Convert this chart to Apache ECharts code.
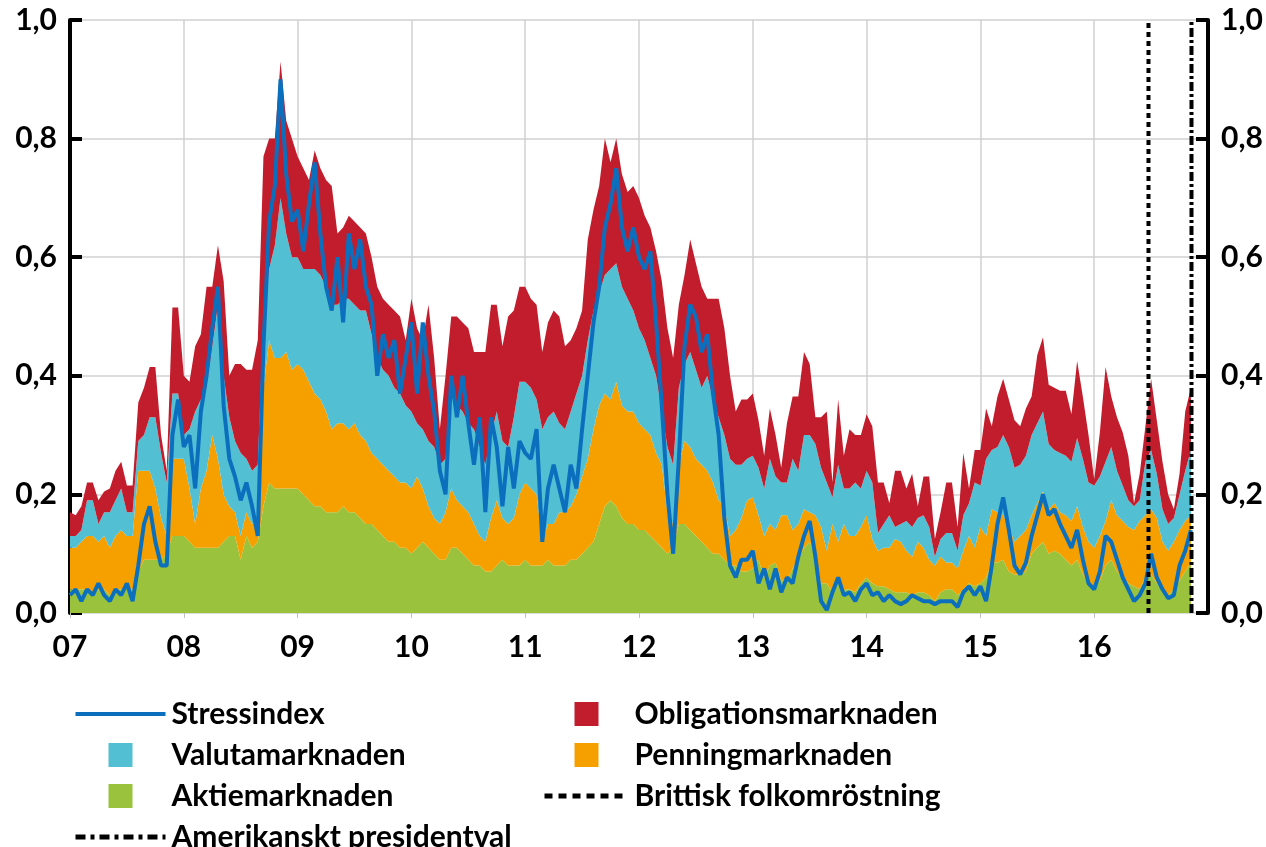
<!DOCTYPE html>
<html>
<head>
<meta charset="utf-8">
<script src="https://cdn.jsdelivr.net/npm/echarts@6/dist/echarts.min.js"></script>
<style>
  html, body { margin: 0; background: #fff; }
  #chart { width: 1266px; height: 847px; }
</style>
</head>
<body>
<div id="chart"></div>
<script>
// sampling: one value every 0.05 year from jan 2007 to nov 2016
var startYear = 2007, endYear = 2017, step = 0.05;

var aktie = [
  0.04,0.04,0.04,0.04,0.03,0.04,0.04,0.03,0.04,0.04,0.04,0.04,0.07,0.09,0.09,0.09,0.09,0.10,0.13,0.13,
  0.13,0.12,0.11,0.11,0.11,0.11,0.11,0.12,0.13,0.13,0.09,0.13,0.11,0.12,0.18,0.22,0.21,0.21,0.21,0.21,
  0.21,0.20,0.19,0.18,0.18,0.17,0.17,0.17,0.18,0.17,0.17,0.16,0.15,0.15,0.14,0.13,0.12,0.12,0.11,0.11,
  0.10,0.11,0.12,0.11,0.10,0.09,0.09,0.11,0.11,0.10,0.09,0.08,0.08,0.07,0.07,0.08,0.09,0.08,0.08,0.08,
  0.09,0.08,0.08,0.08,0.09,0.08,0.08,0.08,0.09,0.09,0.10,0.11,0.12,0.15,0.18,0.19,0.18,0.16,0.15,0.15,
  0.14,0.14,0.13,0.12,0.11,0.10,0.11,0.15,0.15,0.14,0.13,0.12,0.11,0.10,0.10,0.09,0.08,0.08,0.07,0.07,
  0.075,0.09,0.06,0.08,0.085,0.055,0.055,0.075,0.09,0.11,0.12,0.095,0.05,0.05,0.035,0.055,0.04,0.04,0.035,0.05,
  0.06,0.05,0.045,0.045,0.04,0.035,0.035,0.035,0.03,0.035,0.035,0.03,0.02,0.035,0.04,0.04,0.03,0.04,0.05,0.045,
  0.05,0.06,0.085,0.085,0.09,0.07,0.065,0.065,0.07,0.10,0.11,0.12,0.10,0.105,0.10,0.09,0.08,0.09,0.065,0.05,
  0.045,0.055,0.08,0.09,0.07,0.06,0.05,0.045,0.04,0.06,0.065,0.05,0.04,0.03,0.04,0.055,0.07,0.085
];
var penning = [
  0.07,0.07,0.08,0.09,0.10,0.08,0.09,0.08,0.09,0.10,0.09,0.09,0.17,0.15,0.15,0.12,0.07,0.03,0.13,0.13,
  0.13,0.09,0.04,0.10,0.13,0.19,0.15,0.08,0.05,0.04,0.04,0.04,0.04,0.04,0.20,0.24,0.22,0.22,0.23,0.20,
  0.21,0.21,0.20,0.19,0.18,0.17,0.14,0.15,0.14,0.14,0.15,0.14,0.14,0.12,0.12,0.12,0.12,0.11,0.11,0.11,
  0.11,0.12,0.09,0.07,0.06,0.06,0.08,0.10,0.08,0.08,0.08,0.07,0.05,0.05,0.09,0.11,0.07,0.07,0.08,0.12,
  0.13,0.13,0.12,0.04,0.06,0.07,0.09,0.09,0.09,0.11,0.13,0.15,0.19,0.20,0.19,0.17,0.21,0.19,0.19,0.19,
  0.18,0.17,0.17,0.15,0.14,0.07,0.04,0.10,0.14,0.14,0.13,0.13,0.13,0.12,0.09,0.09,0.05,0.06,0.09,0.12,
  0.12,0.075,0.07,0.07,0.055,0.11,0.11,0.065,0.06,0.065,0.05,0.07,0.095,0.055,0.115,0.065,0.11,0.09,0.095,0.095,
  0.105,0.075,0.06,0.065,0.07,0.09,0.085,0.07,0.065,0.085,0.075,0.06,0.06,0.06,0.045,0.045,0.045,0.065,0.08,0.065,
  0.095,0.07,0.09,0.085,0.075,0.075,0.055,0.065,0.07,0.065,0.075,0.085,0.075,0.08,0.07,0.075,0.075,0.09,0.08,0.07,
  0.065,0.075,0.075,0.10,0.095,0.095,0.095,0.095,0.115,0.105,0.11,0.11,0.08,0.075,0.08,0.085,0.085,0.08
];
var valuta = [
  0.02,0.02,0.02,0.06,0.06,0.03,0.04,0.06,0.06,0.07,0.04,0.04,0.05,0.06,0.09,0.12,0.11,0.09,0.11,0.11,
  0.04,0.10,0.19,0.15,0.14,0.15,0.26,0.20,0.15,0.12,0.14,0.09,0.09,0.09,0.12,0.12,0.19,0.27,0.20,0.19,
  0.18,0.17,0.19,0.21,0.21,0.21,0.21,0.20,0.21,0.22,0.20,0.21,0.22,0.20,0.17,0.16,0.16,0.15,0.15,0.13,
  0.13,0.09,0.10,0.11,0.12,0.10,0.09,0.16,0.16,0.16,0.15,0.16,0.15,0.13,0.14,0.15,0.13,0.13,0.17,0.19,
  0.17,0.17,0.16,0.19,0.18,0.19,0.15,0.14,0.16,0.17,0.17,0.20,0.20,0.19,0.20,0.22,0.20,0.20,0.19,0.17,
  0.16,0.15,0.13,0.13,0.09,0.11,0.10,0.13,0.13,0.16,0.15,0.13,0.16,0.14,0.14,0.12,0.13,0.11,0.09,0.07,
  0.07,0.08,0.08,0.11,0.09,0.055,0.055,0.12,0.09,0.125,0.13,0.12,0.10,0.115,0.045,0.13,0.06,0.08,0.09,0.065,
  0.075,0.095,0.03,0.04,0.055,0.02,0.03,0.05,0.05,0.04,0.055,0.055,0.015,0.03,0.05,0.05,0.03,0.06,0.055,0.11,
  0.07,0.13,0.10,0.11,0.135,0.135,0.125,0.12,0.125,0.135,0.135,0.135,0.11,0.09,0.10,0.10,0.10,0.115,0.115,0.10,
  0.105,0.10,0.10,0.09,0.075,0.06,0.045,0.04,0.035,0.09,0.10,0.075,0.055,0.045,0.04,0.06,0.085,0.11
];
var oblig = [
  0.04,0.035,0.04,0.03,0.03,0.04,0.035,0.04,0.05,0.045,0.045,0.045,0.065,0.08,0.085,0.085,0.03,0.02,0.145,0.145,
  0.10,0.08,0.11,0.11,0.17,0.10,0.10,0.16,0.07,0.13,0.15,0.15,0.17,0.21,0.27,0.22,0.18,0.23,0.19,0.20,
  0.17,0.17,0.15,0.20,0.18,0.18,0.20,0.12,0.12,0.14,0.14,0.14,0.13,0.13,0.12,0.12,0.12,0.13,0.13,0.11,
  0.19,0.16,0.15,0.23,0.15,0.06,0.14,0.13,0.15,0.15,0.16,0.13,0.16,0.19,0.22,0.18,0.16,0.22,0.18,0.16,
  0.16,0.15,0.16,0.13,0.16,0.17,0.18,0.14,0.12,0.11,0.11,0.17,0.17,0.18,0.23,0.18,0.21,0.19,0.18,0.21,
  0.22,0.21,0.22,0.21,0.22,0.20,0.18,0.14,0.15,0.19,0.18,0.17,0.13,0.17,0.20,0.18,0.14,0.09,0.11,0.10,
  0.105,0.08,0.055,0.085,0.07,0.025,0.10,0.105,0.125,0.14,0.12,0.045,0.085,0.12,0.025,0.11,0.055,0.10,0.08,0.09,
  0.095,0.095,0.085,0.07,0.02,0.095,0.09,0.055,0.09,0.02,0.065,0.085,0.03,0.045,0.085,0.085,0.04,0.105,0.025,0.055,
  0.06,0.085,0.04,0.085,0.095,0.08,0.08,0.065,0.08,0.065,0.115,0.125,0.10,0.105,0.105,0.11,0.08,0.13,0.105,0.08,
  0.01,0.075,0.16,0.085,0.09,0.09,0.075,0.005,0.045,0.06,0.12,0.09,0.08,0.05,0.015,0.035,0.10,0.105
];
var stress = [
  0.03,0.04,0.02,0.04,0.03,0.05,0.03,0.02,0.04,0.03,0.05,0.02,0.08,0.15,0.18,0.12,0.08,0.08,0.30,0.36,
  0.28,0.30,0.21,0.34,0.40,0.48,0.55,0.35,0.26,0.23,0.19,0.22,0.18,0.13,0.45,0.66,0.72,0.90,0.74,0.66,
  0.68,0.61,0.69,0.76,0.64,0.55,0.51,0.60,0.49,0.64,0.58,0.63,0.55,0.52,0.40,0.47,0.43,0.46,0.37,0.43,
  0.49,0.37,0.49,0.40,0.34,0.24,0.20,0.40,0.33,0.40,0.32,0.25,0.33,0.17,0.33,0.28,0.18,0.28,0.21,0.29,
  0.27,0.26,0.31,0.12,0.21,0.25,0.21,0.17,0.25,0.21,0.31,0.40,0.49,0.55,0.65,0.69,0.75,0.65,0.61,0.65,
  0.60,0.58,0.61,0.49,0.35,0.20,0.10,0.26,0.45,0.52,0.50,0.44,0.47,0.37,0.30,0.16,0.08,0.06,0.09,0.09,
  0.105,0.05,0.075,0.04,0.075,0.035,0.06,0.05,0.095,0.13,0.155,0.095,0.02,0.005,0.035,0.06,0.03,0.035,0.02,0.04,
  0.05,0.03,0.035,0.02,0.03,0.02,0.015,0.02,0.03,0.025,0.02,0.02,0.015,0.02,0.02,0.02,0.01,0.035,0.045,0.03,
  0.045,0.02,0.08,0.15,0.195,0.14,0.08,0.065,0.085,0.13,0.165,0.20,0.165,0.175,0.15,0.13,0.11,0.14,0.09,0.05,
  0.04,0.07,0.13,0.12,0.09,0.06,0.04,0.02,0.03,0.05,0.10,0.06,0.04,0.025,0.03,0.08,0.105,0.14
];
// Brexit 23 jun 2016, US election 8 nov 2016 (decimal years)
var brexit = 2016.477;
var usval = 2016.855;

// category slots for the sampled series, spanning the whole axis 2007-2017
var slots = [];
for (var t = startYear; t <= endYear + 1e-9; t += step) slots.push(t.toFixed(2));

var font = 'Lato';
var fs = 30;
var sq = 'path://M0,0h10v10h-10z';

function areaSeries(name, data, color) {
  return {
    name: name, type: 'line', stack: 'tot', data: data,
    symbol: 'none', color: color,
    lineStyle: { width: 0 }, areaStyle: { color: color, opacity: 1 },
    itemStyle: { borderWidth: 0 }
  };
}

var chart = echarts.init(document.getElementById('chart'));
var yAxisBase = {
  type: 'value', min: 0, max: 1, interval: 0.2,
  axisLine: { show: true, lineStyle: { color: '#000', width: 4 } },
  axisTick: { show: true, inside: true, length: 12, lineStyle: { color: '#000', width: 4 } },
  axisLabel: {
    fontFamily: font, fontWeight: 'bold', fontSize: fs, color: '#000', margin: 13,
    formatter: function (v) { return v.toFixed(1).replace('.', ','); }
  }
};
var legendText = { fontFamily: font, fontWeight: 'bold', fontSize: fs, color: '#000', padding: [0, 0, 0, 1] };

chart.setOption({
  animation: false,
  grid: { left: 70, right: 58, top: 20, bottom: 234, outerBoundsMode: 'none' },
  xAxis: [
    { type: 'category', show: false, position: 'bottom', boundaryGap: false, data: slots },
    {
      type: 'value', position: 'bottom', min: startYear, max: endYear, interval: 1,
      axisLine: { show: false },
      axisTick: { show: true, length: 5, lineStyle: { color: '#bfbfbf' } },
      splitLine: { show: true, lineStyle: { color: '#d0d0d0', width: 1.5 } },
      axisLabel: {
        fontFamily: font, fontWeight: 'bold', fontSize: fs, color: '#000', margin: 19,
        showMaxLabel: false,
        formatter: function (v) { return String(v).slice(2); }
      }
    }
  ],
  yAxis: [
    Object.assign({}, yAxisBase, {
      position: 'left',
      splitLine: { show: true, lineStyle: { color: '#d0d0d0', width: 1.5 } }
    }),
    Object.assign({}, yAxisBase, { position: 'right', splitLine: { show: false } })
  ],
  legend: [
    {
      left: 73, top: 699, height: 170, padding: 0, orient: 'vertical',
      itemWidth: 90, itemHeight: 24, itemGap: 11,
      itemStyle: { borderWidth: 0 },
      textStyle: legendText,
      data: [
        { name: 'Stressindex', itemStyle: { opacity: 0 }, lineStyle: { width: 4 } },
        { name: 'Valutamarknaden', icon: sq },
        { name: 'Aktiemarknaden', icon: sq },
        { name: 'Amerikanskt presidentval', itemStyle: { opacity: 0 },
          lineStyle: { width: 5, type: [10, 5, 4, 5] } }
      ]
    },
    {
      left: 542, top: 699, height: 170, padding: 0, orient: 'vertical',
      itemWidth: 84, itemHeight: 24, itemGap: 11,
      itemStyle: { borderWidth: 0 },
      textStyle: legendText,
      data: [
        { name: 'Obligationsmarknaden', icon: sq },
        { name: 'Penningmarknaden', icon: sq },
        { name: 'Brittisk folkomröstning', itemStyle: { opacity: 0 },
          lineStyle: { width: 5, type: [8, 6] } }
      ]
    }
  ],
  series: [
    areaSeries('Aktiemarknaden', aktie, '#9bc23c'),
    areaSeries('Penningmarknaden', penning, '#f6a000'),
    areaSeries('Valutamarknaden', valuta, '#52bfd3'),
    areaSeries('Obligationsmarknaden', oblig, '#c11d2d'),
    {
      name: 'Stressindex', type: 'line', data: stress, symbol: 'none',
      color: '#0c6fbe', lineStyle: { color: '#0c6fbe', width: 4 }, z: 5
    },
    {
      name: 'Brittisk folkomröstning', type: 'line', xAxisIndex: 1, symbol: 'none', color: '#000',
      data: [[brexit, 0], [brexit, 1]],
      lineStyle: { color: '#000', width: 4, type: [5, 4] }, z: 6
    },
    {
      name: 'Amerikanskt presidentval', type: 'line', xAxisIndex: 1, symbol: 'none', color: '#000',
      data: [[usval, 0], [usval, 1]],
      lineStyle: { color: '#000', width: 4, type: [9, 3, 3, 3] }, z: 6
    }
  ]
});
</script>
</body>
</html>
